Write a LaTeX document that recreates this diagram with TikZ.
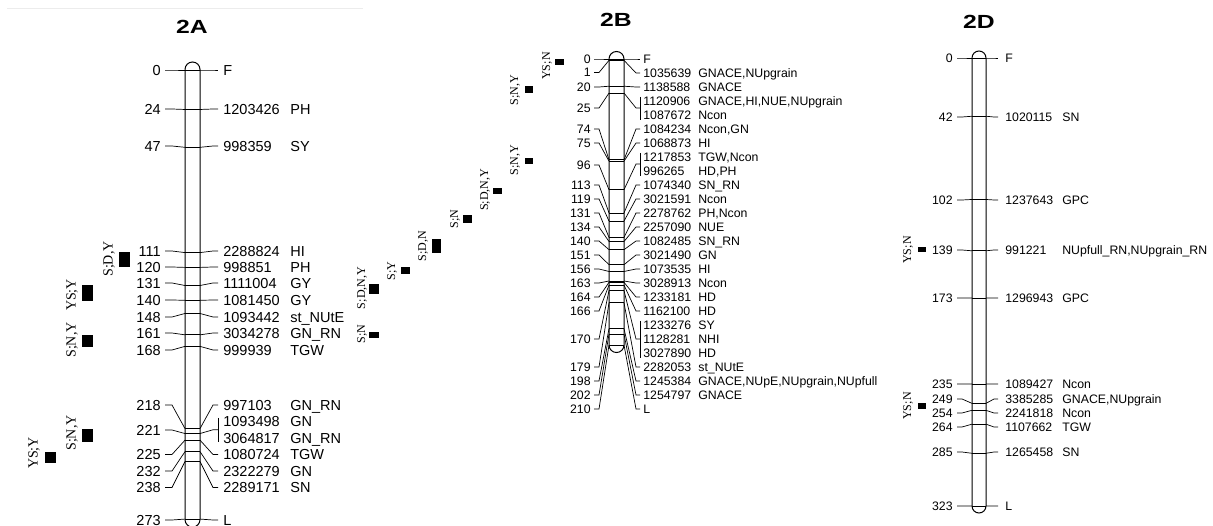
\documentclass[tikz,border=0pt]{standalone}
\usepackage{fontspec}
\setmainfont{Liberation Sans}
\newfontfamily\mkfont{Liberation Serif}
\begin{document}
\begin{tikzpicture}[x=1pt,y=-1pt,line width=0.7pt,
  chrom/.style={draw,line width=1pt,rounded corners=#1},
  num/.style={inner sep=0pt,anchor=base east},
  lab/.style={inner sep=0pt,anchor=base west},
  ttl/.style={inner sep=0pt,xscale=1.3,font=\fontsize{19}{19}\selectfont\bfseries},
  mk/.style={inner sep=0pt,rotate=90,font=\mkfont\fontsize{#1}{#1}\selectfont},
  mkbox/.style={fill=black,draw=none},
]
\useasboundingbox (0,0) rectangle (1213,526);
\draw[gray!15,line width=0.6pt] (7,8) -- (363,8);

% ================= 2A =================
\begin{scope}[font=\fontsize{14.5}{16}\selectfont]
\def\pXn{161}\def\pLs{165}\def\pLb{172}\def\pCl{185}\def\pCr{200}
\def\pRb{213}\def\pRe{218}\def\pXi{223}\def\pXt{290}\def\pYo{70}\def\pSc{1.645}\def\pDd{5.2}
\node[ttl] (tA) at (192,27) {2A};
\draw[chrom=7.5pt] (\pCl,62) rectangle (\pCr,{\pYo+\pSc*273+8});
\foreach \c/\ly in {0/70,24/109,47/146,111/251,120/267,131/283,140/300,148/317,161/333,168/350,218/405,221/430,225/454.5,232/471,238/487.5,273/520}{
  \draw (\pCl,{\pYo+\pSc*\c}) -- (\pCr,{\pYo+\pSc*\c});
  \node[num] (A-n-\c) at (\pXn,{\ly+\pDd}) {\c};
  \coordinate (A-l-\c) at (\pLs,\ly);
  \draw (A-l-\c) -- (\pLb,\ly) -- (\pCl,{\pYo+\pSc*\c});
}
\foreach \c/\ry in {0/70,24/109,47/146,111/251,120/267,131/283,140/300,148/317,161/333,168/350,218/405,221/429.75,225/454.5,232/471,238/487.5,273/520}{
  \coordinate (A-r-\c) at (\pRe,\ry);
  \draw (\pCr,{\pYo+\pSc*\c}) -- (\pRb,\ry) -- (A-r-\c);
}
\draw (\pRe,418) -- (\pRe,442);
\foreach \ry/\id/\tr [count=\i] in {70/F/{},109/1203426/PH,146/998359/SY,251/2288824/HI,267/998851/PH,283/1111004/GY,300/1081450/GY,317/1093442/st\_NUtE,333/3034278/GN\_RN,350/999939/TGW,405/997103/GN\_RN,421.5/1093498/GN,438/3064817/GN\_RN,454.5/1080724/TGW,471/2322279/GN,487.5/2289171/SN,520/L/{}}{
  \node[lab] (A-id-\i) at (\pXi,{\ry+\pDd}) {\id};
  \node[lab] (A-tr-\i) at (\pXt,{\ry+\pDd}) {\tr};
}
% markers
\node[mk=14] (mA1) at (109,259) {S;D,Y};   \fill[mkbox] (119,252) rectangle (130,267);
\node[mk=14] (mA2) at (72,295) {YS;Y};     \fill[mkbox] (82,285) rectangle (93,301);
\node[mk=14] (mA3) at (72,340) {S;N,Y};    \fill[mkbox] (82,335) rectangle (93,347);
\node[mk=14] (mA4) at (72,433) {S;N,Y};    \fill[mkbox] (82,429) rectangle (93,442);
\node[mk=14] (mA5) at (34,453) {YS;Y};     \fill[mkbox] (45,452) rectangle (56,463);
\end{scope}

% ================= 2B =================
\begin{scope}[font=\fontsize{12.3}{14}\selectfont]
\def\pXn{591}\def\pLs{594}\def\pLb{599}\def\pCl{609}\def\pCr{624}
\def\pRb{636}\def\pRe{640}\def\pXi{643}\def\pXt{698}\def\pYo{59}\def\pSc{1.362}\def\pDd{4.4}
\node[ttl] (tB) at (616,20) {2B};
\draw[chrom=7.5pt] (\pCl,51.5) rectangle (\pCr,{\pYo+\pSc*210+7.5});
\foreach \c/\ly in {0/59,1/72.5,20/87,25/108,74/129,75/143,96/165,113/185,119/199,131/213,134/227,140/241,151/255,156/269,163/283,164/297,166/311,170/339,179/367,198/381,202/395,210/409}{
  \draw (\pCl,{\pYo+\pSc*\c}) -- (\pCr,{\pYo+\pSc*\c});
  \node[num] (B-n-\c) at (\pXn,{\ly+\pDd}) {\c};
  \coordinate (B-l-\c) at (\pLs,\ly);
  \draw (B-l-\c) -- (\pLb,\ly) -- (\pCl,{\pYo+\pSc*\c});
}
\foreach \c/\ry in {0/59,1/73,20/87,25/108,74/129,75/143,96/164,113/185,119/199,131/213,134/227,140/241,151/255,156/269,163/283,164/297,166/311,170/339,179/367,198/381,202/395,210/409}{
  \coordinate (B-r-\c) at (\pRe,\ry);
  \draw (\pCr,{\pYo+\pSc*\c}) -- (\pRb,\ry) -- (B-r-\c);
}
\draw (\pRe,97) -- (\pRe,120);
\draw (\pRe,153) -- (\pRe,176);
\draw (\pRe,321) -- (\pRe,358);
\foreach \ry/\id/\tr [count=\i] in {59/F/{},73/1035639/{GNACE,NUpgrain},87/1138588/GNACE,101/1120906/{GNACE,HI,NUE,NUpgrain},115/1087672/Ncon,129/1084234/{Ncon,GN},143/1068873/HI,157/1217853/{TGW,Ncon},171/996265/{HD,PH},185/1074340/SN\_RN,199/3021591/Ncon,213/2278762/{PH,Ncon},227/2257090/NUE,241/1082485/SN\_RN,255/3021490/GN,269/1073535/HI,283/3028913/Ncon,297/1233181/HD,311/1162100/HD,325/1233276/SY,339/1128281/NHI,353/3027890/HD,367/2282053/st\_NUtE,381/1245384/{GNACE,NUpE,NUpgrain,NUpfull},395/1254797/GNACE,409/L/{}}{
  \node[lab] (B-id-\i) at (\pXi,{\ry+\pDd}) {\id};
  \node[lab] (B-tr-\i) at (\pXt,{\ry+\pDd}) {\tr};
}
% markers
\node[mk=12] (mB1) at (547,66) {YS;N};     \fill[mkbox] (555,59.5) rectangle (564,65);
\node[mk=12] (mB2) at (515,90) {S;N,Y};    \fill[mkbox] (525,86) rectangle (533,93);
\node[mk=12] (mB3) at (515,160) {S;N,Y};   \fill[mkbox] (525,158) rectangle (533,164);
\node[mk=12] (mB4) at (485,190) {S;D,N,Y}; \fill[mkbox] (493,188) rectangle (502,194);
\node[mk=12] (mB5) at (455,219) {S;N};     \fill[mkbox] (463,215) rectangle (472,223);
\node[mk=12] (mB6) at (423,246) {S;D,N};   \fill[mkbox] (432,239) rectangle (441,253);
\node[mk=12] (mB7) at (392,271) {S;Y};     \fill[mkbox] (401,267) rectangle (410,274);
\node[mk=12] (mB8) at (362,288) {S;D,N,Y}; \fill[mkbox] (369,284) rectangle (379,294);
\node[mk=12] (mB9) at (362,334) {S;N};     \fill[mkbox] (369,332) rectangle (379,338);
\end{scope}

% ================= 2D =================
\begin{scope}[font=\fontsize{12.3}{14}\selectfont]
\def\pXn{953}\def\pLs{957}\def\pLb{962}\def\pCl{972}\def\pCr{986}
\def\pRb{994}\def\pRe{998}\def\pXi{1005}\def\pXt{1062}\def\pYo{58}\def\pSc{1.387}\def\pDd{4.4}
\node[ttl] (tD) at (979,22) {2D};
\draw[chrom=7pt] (\pCl,51) rectangle (\pCr,{\pYo+\pSc*323+7});
\foreach \c/\ly in {0/58,42/117,102/200,139/250,173/298,235/384,249/399,254/413,264/427,285/452,323/506}{
  \draw (\pCl,{\pYo+\pSc*\c}) -- (\pCr,{\pYo+\pSc*\c});
  \node[num] (D-n-\c) at (\pXn,{\ly+\pDd}) {\c};
  \coordinate (D-l-\c) at (\pLs,\ly);
  \draw (D-l-\c) -- (\pLb,\ly) -- (\pCl,{\pYo+\pSc*\c});
  \coordinate (D-r-\c) at (\pRe,\ly);
  \draw (\pCr,{\pYo+\pSc*\c}) -- (\pRb,\ly) -- (D-r-\c);
}
\foreach \ry/\id/\tr [count=\i] in {58/F/{},117/1020115/SN,200/1237643/GPC,250/991221/{NUpfull\_RN,NUpgrain\_RN},298/1296943/GPC,384/1089427/Ncon,399/3385285/{GNACE,NUpgrain},413/2241818/Ncon,427/1107662/TGW,452/1265458/SN,506/L/{}}{
  \node[lab] (D-id-\i) at (\pXi,{\ry+\pDd}) {\id};
  \node[lab] (D-tr-\i) at (\pXt,{\ry+\pDd}) {\tr};
}
\node[mk=12] (mD1) at (908,250) {YS;N};    \fill[mkbox] (918,247) rectangle (926,252);
\node[mk=12] (mD2) at (908,406) {YS;N};    \fill[mkbox] (918,403) rectangle (926,409);
\end{scope}
\end{tikzpicture}
\end{document}
